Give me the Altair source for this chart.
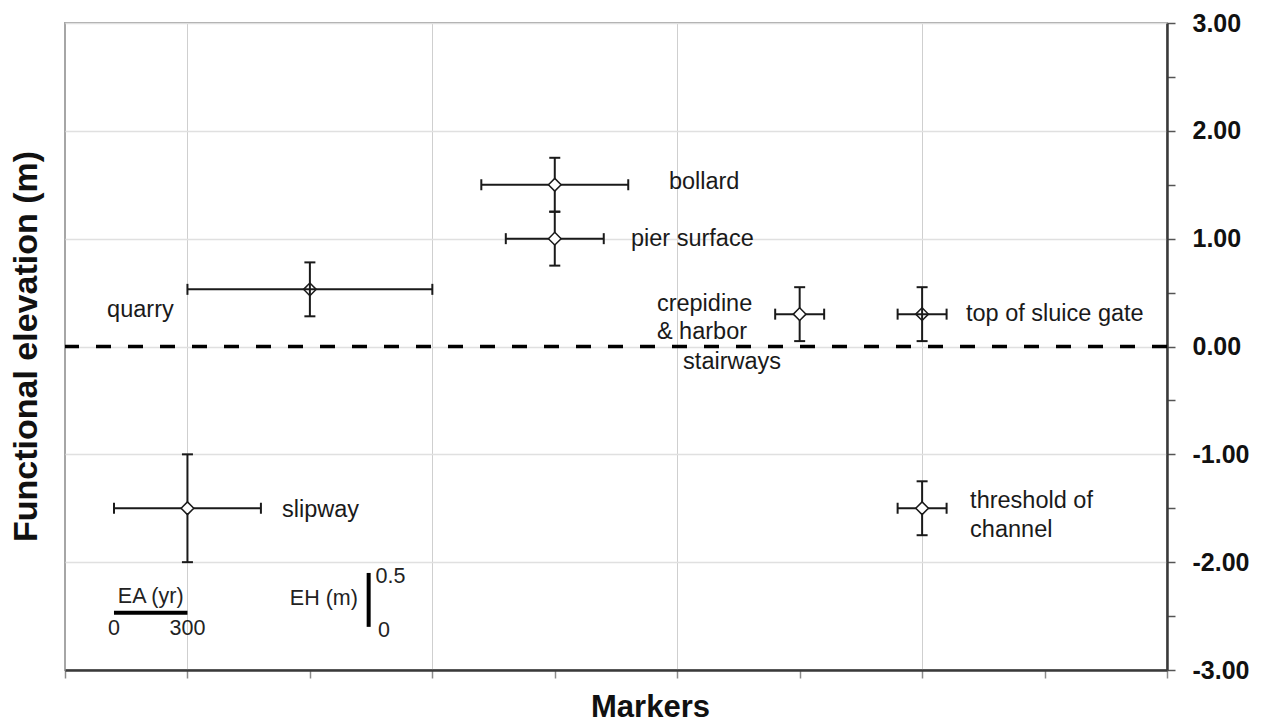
import altair as alt
import pandas as pd

# ---------------- data ----------------
marker_names = ["slipway", "quarry", "bollard", "pier surface",
                "crepidine & harbor stairways", "top of sluice gate",
                "threshold of channel"]
marker_age = [500, 1000, 2000, 2000, 3000, 3500, 3500]        # relative age position (yr)
age_error = [300, 500, 300, 200, 100, 100, 100]               # EA (yr)
marker_elev = [-1.50, 0.53, 1.50, 1.00, 0.30, 0.30, -1.50]    # functional elevation (m)
elev_error = [0.50, 0.25, 0.25, 0.25, 0.25, 0.25, 0.25]       # EH (m)

label_text = ["slipway", "quarry", "bollard", "pier surface", "crepidine",
              "& harbor", "stairways", "top of sluice gate", "threshold of", "channel"]
label_age = [886, 172, 2466, 2311, 2417, 2417, 2524, 3679, 3696, 3696]
label_elev = [-1.52, 0.335, 1.53, 1.00, 0.39, 0.13, -0.14, 0.30, -1.43, -1.70]

x_ticks = [0, 500, 1000, 1500, 2000, 2500, 3000, 3500, 4000, 4500]
y_ticks = [-3.0, -2.5, -2.0, -1.5, -1.0, -0.5, 0.0, 0.5, 1.0, 1.5, 2.0, 2.5, 3.0]
reference_level = [0.0]

# scale-bar legend (EA 300 yr, EH 0.5 m)
ea_span = [200, 500]
ea_level = [-2.47]
ea_tick_text = ["0", "300"]
ea_tick_level = [-2.62]
ea_title = ["EA (yr)"]
ea_title_level = [-2.32]
eh_age = [1240]
eh_span = [-2.6, -2.1]
eh_tick_text = ["0.5", "0"]
eh_tick_age = [1268, 1278]
eh_tick_level = [-2.14, -2.635]
eh_title = ["EH (m)"]
eh_title_age = [1196]
eh_title_level = [-2.34]

# ---------------- frames ----------------
pts = pd.DataFrame({"name": marker_names, "age": marker_age, "ea": age_error,
                    "elev": marker_elev, "eh": elev_error})
pts["age_lo"] = pts["age"] - pts["ea"]
pts["age_hi"] = pts["age"] + pts["ea"]
pts["elev_lo"] = pts["elev"] - pts["eh"]
pts["elev_hi"] = pts["elev"] + pts["eh"]

labels = pd.DataFrame({"text": label_text, "age": label_age, "elev": label_elev})

FONT = "Liberation Sans"
INK = "#1a1a1a"

xscale = alt.Scale(domain=[0, 4500], nice=False, zero=False)
yscale = alt.Scale(domain=[-3, 3], nice=False, zero=False)

xaxis = alt.Axis(
    values=x_ticks, labels=False, ticks=True, tickSize=8, tickColor="#8c8c8c",
    tickWidth=1.5, domainColor="#3a3a3a", domainWidth=2.5,
    grid=True, gridWidth=1,
    gridColor={"condition": {"test": "datum.value % 1000 == 500", "value": "#cfcfcf"},
               "value": "transparent"},
    title="Markers", titleFont=FONT, titleFontSize=31, titleFontWeight="bold",
    titleColor="#111111", titleX=585, titleY=22, titleBaseline="top", titleAlign="center",
)
yaxis = alt.Axis(
    orient="right", values=y_ticks,
    labelExpr="datum.value % 1 == 0 ? (datum.value < 0 ? '-' : '') + format(abs(datum.value), '.2f') : ''",
    labelFont=FONT, labelFontSize=25, labelFontWeight="bold", labelColor="#111111",
    labelPadding=17, labelAlign="left", labelOverlap=False,
    tickSize=8, tickColor="#555555", tickWidth=1.5,
    domainColor="#3a3a3a", domainWidth=2.5,
    grid=True, gridWidth=1.5,
    gridColor={"condition": {"test": "datum.value % 1 != 0", "value": "transparent"},
               "value": "#e0e0e0"},
    title=None,
)


def X(field):
    return alt.X(field, type="quantitative", scale=xscale, axis=xaxis)


def Y(field):
    return alt.Y(field, type="quantitative", scale=yscale, axis=yaxis)


base = alt.Chart(pts)

zero_line = alt.Chart(pd.DataFrame({"lvl": reference_level})).mark_rule(
    color="#000000", strokeWidth=3.5, strokeDash=[15, 17]
).encode(y=Y("lvl"))

x_err = base.mark_rule(color=INK, strokeWidth=2).encode(
    x=X("age_lo"), x2="age_hi", y=Y("elev"))
y_err = base.mark_rule(color=INK, strokeWidth=2).encode(
    x=X("age"), y=Y("elev_lo"), y2="elev_hi")

x_caps = base.transform_fold(["age_lo", "age_hi"], as_=["k", "cap_age"]).mark_tick(
    orient="vertical", size=11, thickness=2, color=INK, opacity=1
).encode(x=X("cap_age"), y=Y("elev"))
y_caps = base.transform_fold(["elev_lo", "elev_hi"], as_=["k", "cap_elev"]).mark_tick(
    orient="horizontal", size=11, thickness=2, color=INK, opacity=1
).encode(x=X("age"), y=Y("cap_elev"))

diamonds = base.mark_point(shape="diamond", filled=True, size=160, stroke=INK,
                           strokeWidth=1.5, opacity=1).encode(
    x=X("age"), y=Y("elev"),
    fill=alt.condition("datum.name == 'quarry' || datum.name == 'top of sluice gate'",
                       alt.value("transparent"), alt.value("white")),
)

ann = alt.Chart(labels).mark_text(align="left", baseline="middle", font=FONT,
                                  fontSize=23.5, color=INK).encode(
    x=X("age"), y=Y("elev"), text="text")

# scale-bar legend
ea_bar = alt.Chart(pd.DataFrame({"a0": [ea_span[0]], "a1": [ea_span[1]], "lvl": ea_level})).mark_rule(
    color="#000000", strokeWidth=4).encode(x=X("a0"), x2="a1", y=Y("lvl"))
ea_txt = alt.Chart(pd.DataFrame({
    "t": ea_tick_text + ea_title,
    "a": ea_span + [(ea_span[0] + ea_span[1]) / 2],
    "l": ea_tick_level * 2 + ea_title_level,
})).mark_text(align="center", baseline="middle", font=FONT, fontSize=21.5, color="#222222").encode(
    x=X("a"), y=Y("l"), text="t")

eh_bar = alt.Chart(pd.DataFrame({"a": eh_age, "l0": [eh_span[0]], "l1": [eh_span[1]]})).mark_rule(
    color="#000000", strokeWidth=4).encode(x=X("a"), y=Y("l0"), y2="l1")
eh_ticks_txt = alt.Chart(pd.DataFrame({"t": eh_tick_text, "a": eh_tick_age, "l": eh_tick_level})).mark_text(
    align="left", baseline="middle", font=FONT, fontSize=21.5, color="#222222").encode(
    x=X("a"), y=Y("l"), text="t")
eh_title_txt = alt.Chart(pd.DataFrame({"t": eh_title, "a": eh_title_age, "l": eh_title_level})).mark_text(
    align="right", baseline="middle", font=FONT, fontSize=21.5, color="#222222").encode(
    x=X("a"), y=Y("l"), text="t")

chart = alt.layer(
    zero_line, x_err, y_err, x_caps, y_caps, diamonds, ann,
    ea_bar, ea_txt, eh_bar, eh_ticks_txt, eh_title_txt,
).properties(
    width=1102, height=647,
    autosize=alt.AutoSizeParams(type="none"),
    padding={"left": 65, "top": 23, "right": 101, "bottom": 53},
    title=alt.TitleParams("Functional elevation (m)", orient="left", anchor="middle",
                          font=FONT, fontSize=34, fontWeight="bold", color="#111111",
                          offset=19),
).configure_view(stroke="#a6a6a6", strokeWidth=2)

chart.save("out.html", embed_options={"renderer": "svg", "actions": False})
